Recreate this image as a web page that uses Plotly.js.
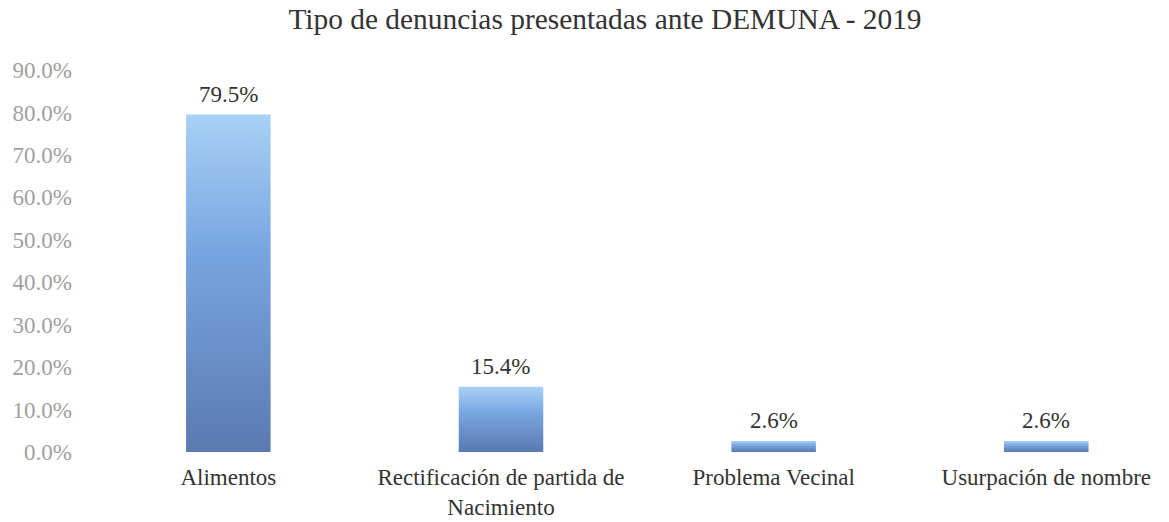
<!DOCTYPE html>
<html>
<head>
<meta charset="utf-8">
<script src="https://cdn.plot.ly/plotly-3.0.1.min.js"></script>
<style>html,body{margin:0;padding:0;background:#fff;}#chart{width:1169px;height:522px;}</style>
</head>
<body>
<div id="chart"></div>
<script>
const categories = ["Alimentos", "Rectificación de partida de<br>Nacimiento", "Problema Vecinal", "Usurpación de nombre"];
const values = [79.5, 15.4, 2.6, 2.6];
const tickValues = [0, 10, 20, 30, 40, 50, 60, 70, 80, 90];
const tickLabels = ["0.0%", "10.0%", "20.0%", "30.0%", "40.0%", "50.0%", "60.0%", "70.0%", "80.0%", "90.0%"];
const titleText = "Tipo de denuncias presentadas ante DEMUNA - 2019";

const serif = "Liberation Serif";

const trace = {
  type: "bar",
  x: categories,
  y: values,
  width: 0.31,
  marker: {color: "#7ea6dc", line: {width: 0}},
  hoverinfo: "none"
};

const annotations = values.map((v, i) => ({
  x: categories[i], y: v, xref: "x", yref: "y",
  text: v.toFixed(1) + "%",
  showarrow: false, yanchor: "bottom", yshift: 6,
  font: {family: serif, size: 23, color: "#333333"}
}));

const layout = {
  width: 1169, height: 522,
  margin: {l: 92, r: 0, t: 70, b: 70},
  paper_bgcolor: "#ffffff", plot_bgcolor: "#ffffff",
  showlegend: false,
  font: {family: serif},
  title: {
    text: titleText,
    font: {family: serif, size: 29.4, color: "#333333"},
    x: 605 / 1169, xref: "container", xanchor: "center",
    y: 1 - 19 / 522, yref: "container", yanchor: "middle"
  },
  xaxis: {
    range: [-0.5, 3.45],
    showgrid: false, zeroline: false, showline: false, ticks: "",
    tickfont: {family: serif, size: 23, color: "#333333"},
    ticklabelstandoff: 9
  },
  yaxis: {
    range: [0, 90],
    tickvals: tickValues, ticktext: tickLabels,
    showgrid: false, zeroline: false, showline: false, ticks: "",
    tickfont: {family: serif, size: 23, color: "#a0a0a0"},
    ticklabelstandoff: 19
  },
  annotations: annotations
};

Plotly.newPlot("chart", [trace], layout, {displayModeBar: false, staticPlot: true}).then(gd => {
  const svg = gd.querySelector(".main-svg");
  const ns = "http://www.w3.org/2000/svg";
  let defs = svg.querySelector("defs");
  if (!defs) { defs = document.createElementNS(ns, "defs"); svg.insertBefore(defs, svg.firstChild); }
  const grad = document.createElementNS(ns, "linearGradient");
  grad.setAttribute("id", "barGrad");
  grad.setAttribute("x1", "0"); grad.setAttribute("y1", "0");
  grad.setAttribute("x2", "0"); grad.setAttribute("y2", "1");
  [["0", "#a8d1f6"], ["0.4", "#78a6e0"], ["1", "#5a7ab0"]].forEach(([o, c]) => {
    const s = document.createElementNS(ns, "stop");
    s.setAttribute("offset", o); s.setAttribute("stop-color", c);
    grad.appendChild(s);
  });
  defs.appendChild(grad);
  gd.querySelectorAll(".bars .point path").forEach(p => { p.style.fill = "url(#barGrad)"; });
});
</script>
</body>
</html>
